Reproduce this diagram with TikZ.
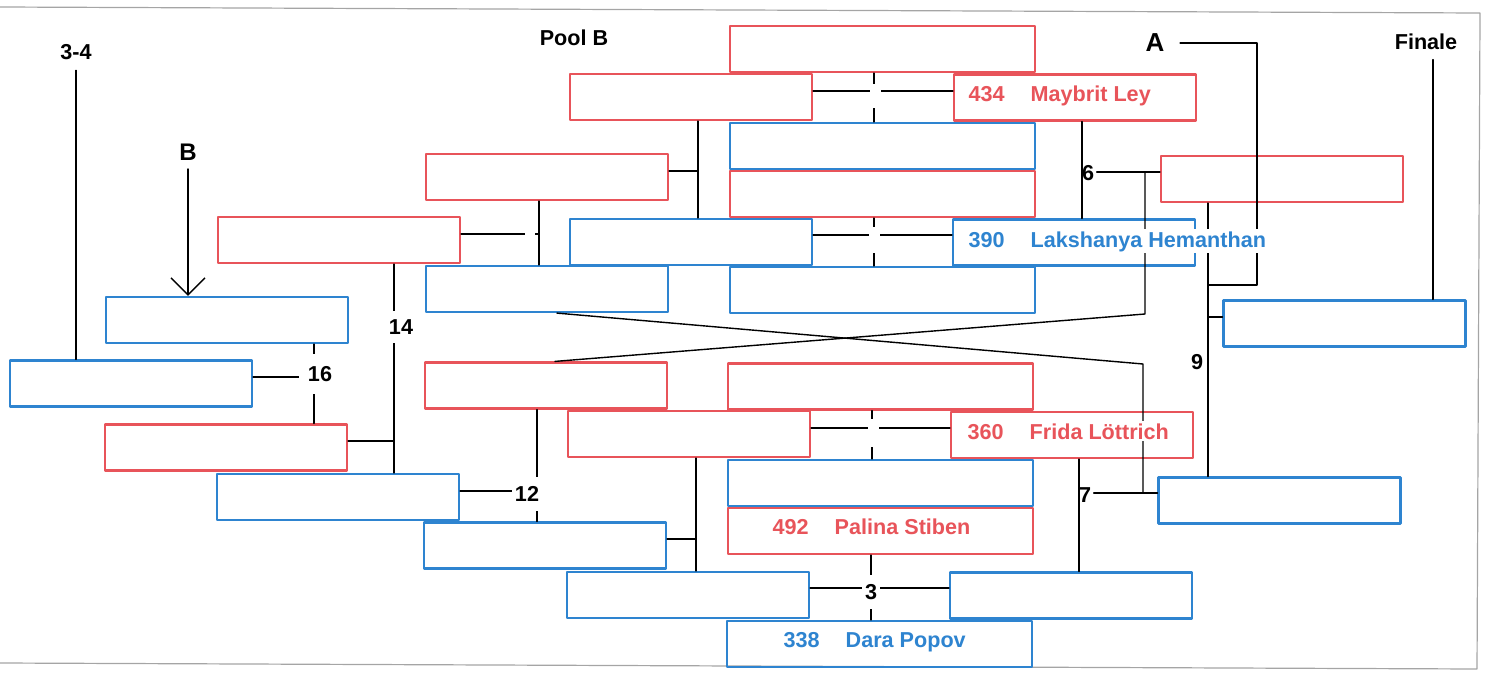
\documentclass[tikz,border=0pt]{standalone}
\usepackage{fontspec}
\setmainfont{Liberation Sans}
\usetikzlibrary{arrows.meta}
\definecolor{poolred}{RGB}{232,84,90}
\definecolor{poolblue}{RGB}{46,132,208}
\definecolor{scangray}{RGB}{165,165,165}
\tikzset{
  slot/.style={draw, line width=1.1pt, minimum width=121pt, minimum height=23pt, inner sep=0pt},
  rslot/.style={slot, draw=poolred},
  bslot/.style={slot, draw=poolblue},
  wide/.style={minimum width=152.5pt},
  player/.style={font=\bfseries\fontsize{10.8pt}{13pt}\selectfont, fill=white, inner sep=1pt, anchor=base west},
  tag/.style={font=\bfseries\fontsize{10.8pt}{13pt}\selectfont, inner sep=1pt},
  tagcut/.style={tag, fill=white, inner xsep=1.5pt, inner ysep=4.5pt},
  cut/.style={fill=white, inner sep=0pt, minimum width=5.5pt, minimum height=12pt},
}
\begin{document}
\begin{tikzpicture}[x=0.5pt, y=-0.5pt, >={Straight Barb[length=8.5pt,width=17pt]}, line join=round, line cap=round, line width=0.7pt]
\useasboundingbox (0,0) rectangle (1487,674);
% scan frame
\draw[scangray, line width=0.6pt] (0,7) -- (1480,13) -- (1477,669) -- (0,663);

% centre column
\node[rslot, wide] (c1) at (882.5,49) {};
\node[bslot, wide] (c2) at (882.5,146) {};
\node[rslot, wide] (c3) at (882.5,194) {};
\node[bslot, wide] (c4) at (882.5,290) {};
\node[rslot, wide] (c5) at (880.5,386.5) {};
\node[bslot, wide] (c6) at (880.5,483) {};
\node[rslot, wide] (c7) at (880.5,531) {};
\node[bslot, wide] (c8) at (879.5,644) {};

% pool B rounds
\node[rslot] (l1) at (691,97) {};
\node[bslot] (l2) at (691,242) {};
\node[rslot] (l3) at (689,434) {};
\node[bslot] (l4) at (688,595) {};
\node[rslot] (r1) at (1075,97.5) {};
\node[bslot] (r2) at (1074,242.5) {};
\node[rslot] (r3) at (1072,435) {};
\node[bslot] (r4) at (1071,595.5) {};
\node[rslot] (m1) at (547,177) {};
\node[bslot] (m2) at (547,289) {};
\node[rslot] (m3) at (546,385.5) {};
\node[bslot] (m4) at (545,545.5) {};
\node[rslot] (f1) at (339,240) {};
\node[bslot] (f2) at (338,497) {};
\node[bslot] (g1) at (227,320) {};
\node[rslot] (g2) at (226,447.5) {};
\node[bslot] (h1) at (131,383.5) {};
\node[rslot] (k1) at (1282,179) {};
\node[bslot] (k2) at (1344.5,323.5) {};
\node[bslot] (k3) at (1279.5,500.5) {};

% headings
\node[tag] (t34) at (76,52) {3-4};
\node[tag] (pool) at (574,38) {Pool B};
\node[tag, font=\bfseries\fontsize{13pt}{15pt}\selectfont] (ta) at (1155,43) {A};
\node[tag, font=\bfseries\fontsize{12pt}{14pt}\selectfont] (tb) at (188,152) {B};
\node[tag] (fin) at (1426,42) {Finale};
\node[tag] (n6) at (1088,173) {6};
\node[tag] (n7) at (1085,495) {7};
\node[tag] (n9) at (1197,362) {9};

% junctions
\coordinate (j1) at (698,171);
\coordinate (j2) at (696,539);
\coordinate (j4) at (539,234);
\coordinate (j12) at (537,491);
\coordinate (j14) at (394,441);
\coordinate (j16) at (314,377);
\coordinate (j6) at (1082,172);
\coordinate (j7) at (1079,493);
\coordinate (j9) at (1208,317);
\coordinate (j3) at (871,588);
\coordinate (p1) at (874,91);
\coordinate (p2) at (874,235);
\coordinate (p3) at (872,428);
\coordinate (aTop) at (1257,43);
\coordinate (aEnd) at (1208,285);
\coordinate (xa) at (1145,314);
\coordinate (xb) at (1143,364);

% leads
\draw[shorten <=4pt] (t34.south) -- (t34.south |- h1.north);
\draw[->, shorten <=3pt] (tb.south) -- (tb.south |- g1.north);
\draw[shorten <=3.5pt] ([xshift=3.5pt]fin.south) -- ([xshift=3.5pt]fin.south |- k2.north);
\draw[shorten <=6.5pt] (ta.east) -- (aTop) -- (aTop |- aEnd) -- (aEnd);

% left brackets
\draw (j1 |- l1.south) -- (j1 |- l2.north);
\draw (m1.east |- j1) -- (j1);
\draw (j2 |- l3.south) -- (j2 |- l4.north);
\draw (m4.east |- j2) -- (j2);
\draw (j4 |- m1.south) -- (j4 |- m2.north);
\draw (f1.east |- j4) -- (j4);
\draw (j12 |- m3.south) -- (j12 |- m4.north);
\draw (f2.east |- j12) -- (j12);
\draw (j14 |- f1.south) -- (j14 |- f2.north);
\draw (g2.east |- j14) -- (j14);
\draw (j16 |- g1.south) -- (j16 |- g2.north);
\draw (h1.east |- j16) -- (j16);

% right brackets
\draw (j6 |- r1.south) -- (j6 |- r2.north);
\draw (n6.east |- j6) -- (k1.west |- j6);
\draw (j7 |- r3.south) -- (j7 |- r4.north);
\draw (n7.east |- j7) -- (k3.west |- j7);
\draw (j9 |- k1.south) -- (j9 |- k3.north);
\draw (j9) -- (k2.west |- j9);

% cross-over
\draw (xa |- j6) -- (xa) -- ([xshift=4.5pt]m3.north);
\draw ([xshift=5pt]m2.south) -- (xb) -- (xb |- j7);

% centre crosses
\draw (l1.east |- p1) -- (r1.west |- p1);
\draw (p1 |- c1.south) -- (p1 |- c2.north);
\draw (l2.east |- p2) -- (r2.west |- p2);
\draw (p2 |- c3.south) -- (p2 |- c4.north);
\draw (l3.east |- p3) -- (r3.west |- p3);
\draw (p3 |- c5.south) -- (p3 |- c6.north);
\draw (l4.east |- j3) -- (r4.west |- j3);
\draw (j3 |- c7.south) -- (j3 |- c8.north);

% gaps and numbers
\node[cut] (x1) at (875,96) {};
\node[cut, minimum height=13pt] (x2) at (874,240) {};
\node[cut, minimum height=14pt] (x3) at (873,433) {};
\node[cut, minimum width=5pt, minimum height=3pt] (gl) at (530,234) {};
\node[tagcut] (n3) at (871,592) {3};
\node[tagcut] (n12) at (527,494) {12};
\node[tagcut] (n14) at (401,327) {14};
\node[tagcut, inner xsep=4.5pt, inner ysep=6pt] (n16) at (320,374) {16};

% players
\node[player, text=poolred] (p434) at (966,102) {434\hspace{13pt}Maybrit Ley};
\node[player, text=poolblue] (p390) at (966,247) {390\hspace{13pt}Lakshanya Hemanthan};
\node[player, text=poolred] (p360) at (965,439) {360\hspace{13pt}Frida Löttrich};
\node[player, text=poolred] (p492) at (770,534) {492\hspace{13pt}Palina Stiben};
\node[player, text=poolblue] (p338) at (781,647) {338\hspace{13pt}Dara Popov};
\end{tikzpicture}
\end{document}
